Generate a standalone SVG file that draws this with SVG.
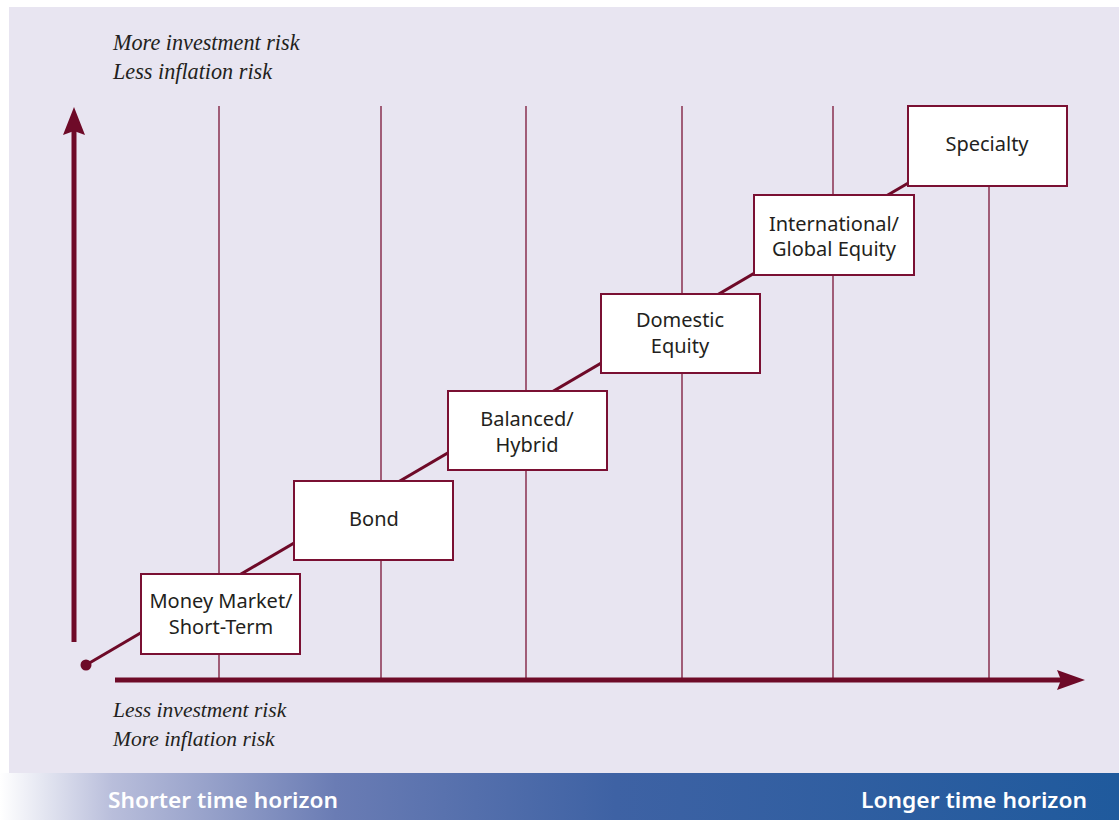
<svg xmlns="http://www.w3.org/2000/svg" width="1119" height="820" viewBox="0 0 1119 820">
<defs>
<linearGradient id="band" x1="0" y1="0" x2="1" y2="0">
<stop offset="0" stop-color="#ffffff"/>
<stop offset="0.1" stop-color="#b9bedb"/>
<stop offset="0.3" stop-color="#6a7cb4"/>
<stop offset="0.55" stop-color="#3e62a4"/>
<stop offset="1" stop-color="#1f5a9d"/>
</linearGradient>
<style>
.grid{stroke:#7a1436;stroke-width:1.3;fill:none}
.axis{stroke:#6e0a28;stroke-width:5;fill:none}
.box{fill:#ffffff;stroke:#7a1033;stroke-width:2}
.lbl{font-family:"Noto Sans",sans-serif;font-size:20px;fill:#231f20;text-anchor:middle}
.it{font-family:"Liberation Serif",serif;font-style:italic;font-size:21.5px;fill:#231f20}
.it2{font-size:22.2px}
.bt{font-family:"Noto Sans",sans-serif;font-weight:600;font-size:22px;fill:#ffffff}
</style>
</defs>
<rect x="0" y="0" width="1119" height="820" fill="#ffffff"/>
<rect x="9" y="7" width="1110" height="766" fill="#e8e5f1"/>
<rect x="0" y="773" width="1119" height="47" fill="url(#band)"/>
<text class="bt" x="108" y="808" textLength="230" lengthAdjust="spacingAndGlyphs">Shorter time horizon</text>
<text class="bt" x="861" y="808" textLength="226" lengthAdjust="spacingAndGlyphs">Longer time horizon</text>
<text class="it it2" x="113" y="50">More investment risk</text>
<text class="it it2" x="113" y="79">Less inflation risk</text>
<text class="it" x="113" y="717">Less investment risk</text>
<text class="it" x="113" y="746">More inflation risk</text>
<g id="connectors">
<line class="grid" x1="219" y1="106" x2="219" y2="678"/>
<line class="grid" x1="381" y1="106" x2="381" y2="678"/>
<line class="grid" x1="526" y1="106" x2="526" y2="678"/>
<line class="grid" x1="682" y1="106" x2="682" y2="678"/>
<line class="grid" x1="833" y1="106" x2="833" y2="678"/>
<line class="grid" x1="989" y1="106" x2="989" y2="678"/>
<line x1="86" y1="665" x2="910" y2="182" stroke="#6e0a28" stroke-width="3"/>
<circle cx="86" cy="665" r="5.5" fill="#6e0a28"/>
<line class="axis" x1="74" y1="642" x2="74" y2="130"/>
<path d="M74,107 L85,135 L74,131 L63,135 Z" fill="#6e0a28"/>
<line class="axis" x1="115" y1="680" x2="1062" y2="680"/>
<path d="M1085,680 L1057,670 L1061,680 L1057,690 Z" fill="#6e0a28"/>
</g>
<g id="money-market">
<rect class="box" x="141" y="574" width="159" height="80"/>
<text class="lbl" x="221" y="608">Money Market/</text>
<text class="lbl" x="221" y="634">Short-Term</text>
</g>
<g id="bond">
<rect class="box" x="294" y="481" width="159" height="79"/>
<text class="lbl" x="374" y="526">Bond</text>
</g>
<g id="balanced">
<rect class="box" x="448" y="391" width="159" height="79"/>
<text class="lbl" x="527" y="426">Balanced/</text>
<text class="lbl" x="527" y="452">Hybrid</text>
</g>
<g id="domestic">
<rect class="box" x="601" y="294" width="159" height="79"/>
<text class="lbl" x="680" y="327">Domestic</text>
<text class="lbl" x="680" y="353">Equity</text>
</g>
<g id="international">
<rect class="box" x="754" y="195" width="160" height="80"/>
<text class="lbl" x="834" y="231">International/</text>
<text class="lbl" x="834" y="256">Global Equity</text>
</g>
<g id="specialty">
<rect class="box" x="908" y="106" width="159" height="80"/>
<text class="lbl" x="987" y="151">Specialty</text>
</g>
</svg>
